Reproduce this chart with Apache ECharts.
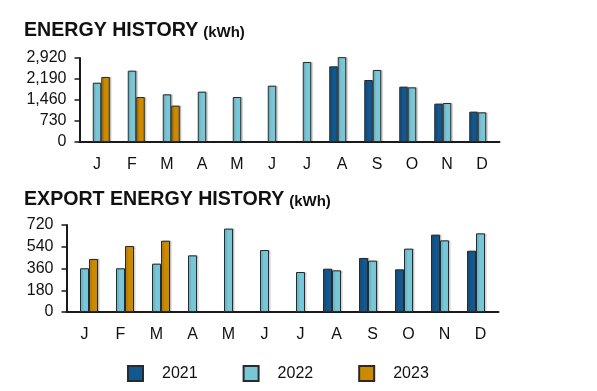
<!DOCTYPE html>
<html>
<head>
<meta charset="utf-8">
<script src="https://cdn.jsdelivr.net/npm/echarts@6/dist/echarts.min.js"></script>
<style>
html,body{margin:0;padding:0;background:#fff;}
#chart{width:597px;height:391px;}
</style>
</head>
<body>
<div id="chart"></div>
<script>
var months = ['J','F','M','A','M','J','J','A','S','O','N','D'];
var years = ['2021','2022','2023'];

var energy2021 = ['-','-','-','-','-','-','-',2630,2155,1923,1333,1054];
var energy2022 = [2061,2479,1657,1750,1564,1958,2781,2950,2503,1900,1356,1031];
var energy2023 = [2260,1564,1263,'-','-','-','-','-','-','-','-','-'];

var export2021 = ['-','-','-','-','-','-','-',358,447,353,640,507];
var export2022 = [362,362,400,469,690,513,331,345,425,524,593,651];
var export2023 = [439,546,590,'-','-','-','-','-','-','-','-','-'];

var energyTicks = [0,730,1460,2190,2920];
var exportTicks = [0,180,360,540,720];

var colors = {'2021':'#13578f','2022':'#78c6d6','2023':'#cc8a00'};
var font = 'Arial, "Liberation Sans", Helvetica, sans-serif';

function barSeries(name, data, idx, width){
  return {
    name: name, type: 'bar', data: data,
    xAxisIndex: idx, yAxisIndex: idx,
    barWidth: width, barGap: '0%', clip: false,
    itemStyle: {
      color: colors[name], borderColor: '#2a2a2a', borderWidth: 1,
      shadowColor: 'rgba(0,0,0,0.18)', shadowOffsetX: 1.5, shadowOffsetY: 0, shadowBlur: 1
    },
    emphasis: {disabled: true}
  };
}

function xAxis(idx){
  return {
    type: 'category', gridIndex: idx, data: months,
    axisLine: {lineStyle: {color: '#1a1a1a', width: 2}},
    axisTick: {alignWithLabel: true, length: 5, lineStyle: {color: '#555', width: 1.5}},
    axisLabel: {fontFamily: font, fontSize: 16, color: '#111', margin: 15}
  };
}
function yAxis(idx, ticks){
  return {
    type: 'value', gridIndex: idx, min: ticks[0], max: ticks[ticks.length-1],
    interval: ticks[1]-ticks[0],
    splitLine: {show: false},
    axisLine: {show: true, lineStyle: {color: '#1a1a1a', width: 2}},
    axisTick: {show: true, length: 5, lineStyle: {color: '#1a1a1a', width: 1.5}},
    axisLabel: {fontFamily: font, fontSize: 16, color: '#111', margin: 13,
      formatter: function(v){ return v.toLocaleString('en-US'); }}
  };
}

var titleRich = {
  a: {fontFamily: font, fontSize: 19.6, fontWeight: 'bold', color: '#111'},
  b: {fontFamily: font, fontSize: 15, fontWeight: 'bold', color: '#111', verticalAlign: 'bottom', padding: [0,0,1,0]}
};

var chart = echarts.init(document.getElementById('chart'), null, {renderer: 'canvas'});
chart.setOption({
  animation: false,
  backgroundColor: '#fff',
  title: [
    {text: '{a|ENERGY HISTORY} {b|(kWh)}', left: 24, top: 21, padding: 0,
     textStyle: {rich: titleRich}},
    {text: '{a|EXPORT ENERGY HISTORY} {b|(kWh)}', left: 24, top: 190, padding: 0,
     textStyle: {rich: titleRich}}
  ],
  legend: {
    data: years, left: 127, top: 365, padding: 0, itemWidth: 15, itemHeight: 15, itemGap: 45,
    icon: 'rect',
    textStyle: {fontFamily: font, fontSize: 16, color: '#111', padding: [0,0,0,14]},
    selectedMode: false
  },
  grid: [
    {left: 79.5, top: 58, width: 420, height: 84},
    {left: 66.5, top: 225, width: 432, height: 87}
  ],
  xAxis: [xAxis(0), xAxis(1)],
  yAxis: [yAxis(0, energyTicks), yAxis(1, exportTicks)],
  series: [
    barSeries('2021', energy2021, 0, 8.5),
    barSeries('2022', energy2022, 0, 8.5),
    barSeries('2023', energy2023, 0, 8.5),
    barSeries('2021', export2021, 1, 9),
    barSeries('2022', export2022, 1, 9),
    barSeries('2023', export2023, 1, 9)
  ]
});
</script>
</body>
</html>
